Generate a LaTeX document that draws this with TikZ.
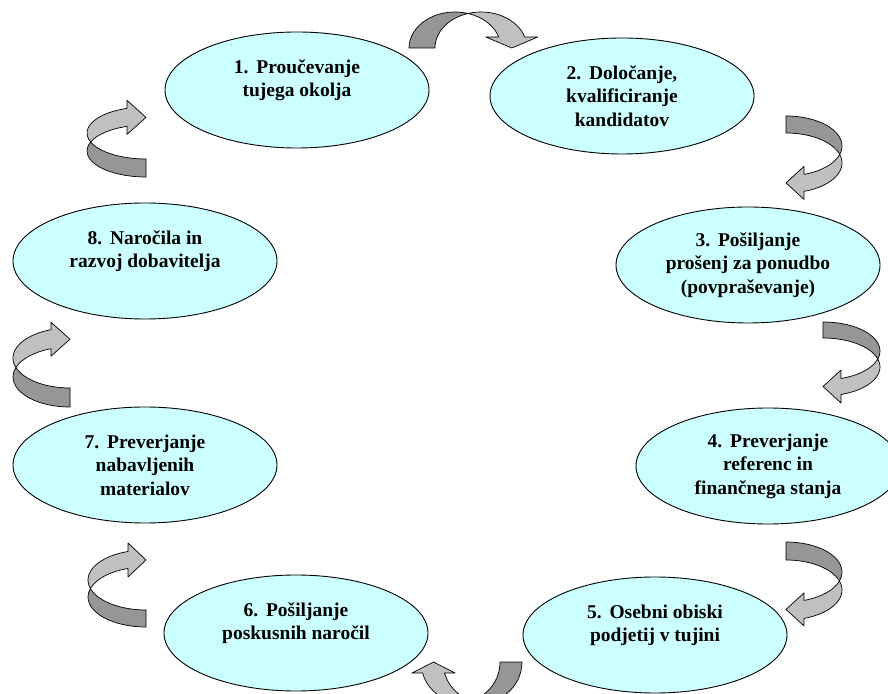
\documentclass[tikz,border=0pt]{standalone}
\usepackage{fontspec}
\setmainfont{Liberation Serif}
\usetikzlibrary{shapes.geometric}
\definecolor{ellfill}{HTML}{CCFFFF}
\definecolor{darkgr}{HTML}{969696}
\definecolor{lightgr}{HTML}{C0C0C0}
\tikzset{
  stage/.style={ellipse, draw=black, line width=0.9pt, fill=ellfill,
    minimum width=264pt, minimum height=116pt, inner sep=0pt,
    align=center, font=\fontsize{19.5}{23.5}\selectfont\bfseries},
  darkpart/.style={draw=black, line width=0.7pt, fill=darkgr, line join=round},
  lightpart/.style={draw=black, line width=0.7pt, fill=lightgr, line join=round}
}
% curved band arrow in local coordinates
\newcommand\bandarrow[6]{%
  \pgfmathsetmacro\CApa{acos(#3/(2*#1))}%
  \pgfmathsetmacro\CApb{180-\CApa}%
  \pgfmathsetmacro\CAbe{asin(#4/#2)}%
  \pgfmathsetmacro\CAxa{#1*cos(\CAbe)}%
  \pgfmathsetmacro\CAxb{#3+#1*cos(\CAbe)}%
  \pgfmathsetmacro\CAxc{#3/2+#1*cos(\CAbe)}%
  \draw[darkpart] (-#1,0) arc[start angle=180,end angle=\CApa,x radius=#1pt,y radius=#2pt]
     arc[start angle=\CApb,end angle=180,x radius=#1pt,y radius=#2pt] -- cycle;
  \draw[lightpart] (\CAxb,#4) arc[start angle=\CAbe,end angle=\CApb,x radius=#1pt,y radius=#2pt]
     arc[start angle=\CApa,end angle=\CAbe,x radius=#1pt,y radius=#2pt]
     -- ({\CAxc-#5},#4) -- (\CAxc,{#4-#6}) -- ({\CAxc+#5},#4) -- cycle;
}
\begin{document}
\begin{tikzpicture}[x=1pt,y=1pt]
\useasboundingbox (0,0) rectangle (888,693);
\clip (0,0) rectangle (888,693);
\fill[white] (0,0) rectangle (888,693);

\node[stage] (s1) at (297,603) {1.\hspace{0.4em}Proučevanje\\tujega okolja\\~};
\node[stage] (s2) at (622,597) {2.\hspace{0.4em}Določanje,\\kvalificiranje\\kandidatov};
\node[stage] (s3) at (748,428) {3.\hspace{0.4em}Pošiljanje\\prošenj za ponudbo\\(povpraševanje)};
\node[stage] (s4) at (768,227) {4.\hspace{0.4em}Preverjanje\\referenc in\\finančnega stanja};
\node[stage] (s5) at (655,58) {5.\hspace{0.4em}Osebni obiski\\podjetij v tujini\\~};
\node[stage] (s6) at (296,60) {6.\hspace{0.4em}Pošiljanje\\poskusnih naročil\\~};
\node[stage] (s7) at (145,228) {7.\hspace{0.4em}Preverjanje\\nabavljenih\\materialov};
\node[stage] (s8) at (145,432) {8.\hspace{0.4em}Naročila in\\razvoj dobavitelja\\~};

% curved arrows
\begin{scope}[shift={(455,645)}]\bandarrow{46}{36}{26}{11}{26}{11}\end{scope}
\begin{scope}[shift={(786,547)},rotate=-90]\bandarrow{30}{56}{17}{18}{16.5}{18}\end{scope}
\begin{scope}[shift={(823,342)},rotate=-90]\bandarrow{29}{57}{16}{18}{16.5}{18}\end{scope}
\begin{scope}[shift={(786,121)},rotate=-90]\bandarrow{30}{56}{18}{18}{16.5}{18}\end{scope}
\begin{scope}[shift={(482.5,31)},rotate=180]\bandarrow{39.5}{40}{22}{11}{21.5}{11}\end{scope}
\begin{scope}[shift={(146,96)},rotate=90]\bandarrow{30}{58}{17}{18}{17}{18}\end{scope}
\begin{scope}[shift={(70,316)},rotate=90]\bandarrow{30}{57}{19}{19}{17}{19}\end{scope}
\begin{scope}[shift={(146,542)},rotate=90]\bandarrow{26}{59}{18}{19}{17}{19}\end{scope}
\end{tikzpicture}
\end{document}
